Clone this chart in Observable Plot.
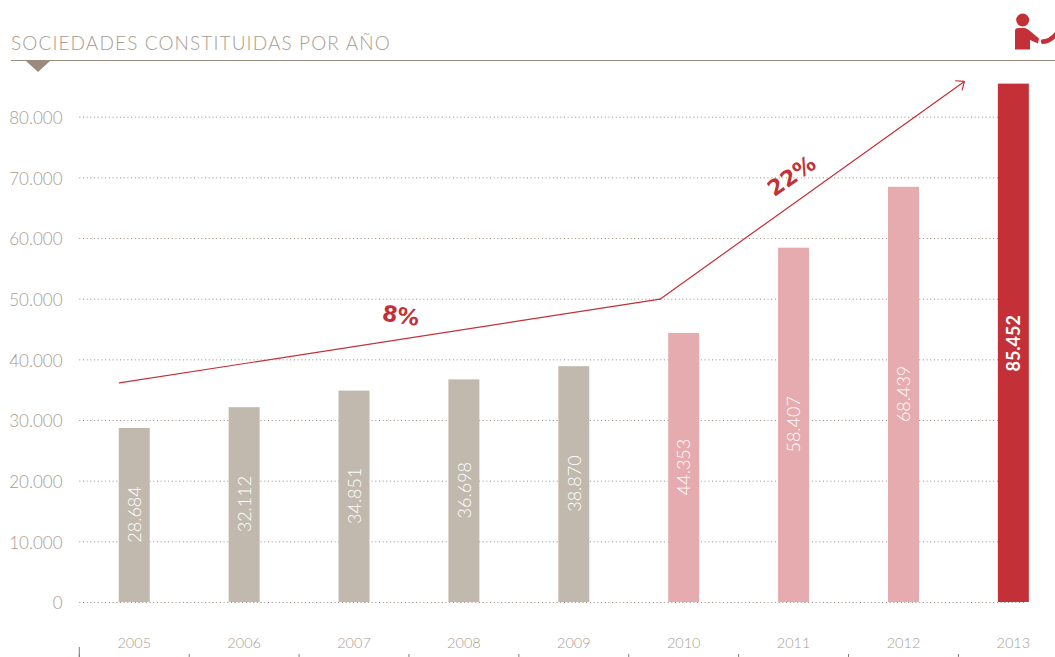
<!DOCTYPE html>
<html><head><meta charset="utf-8">
<script src="https://cdn.jsdelivr.net/npm/d3@7"></script>
<script src="https://cdn.jsdelivr.net/npm/@observablehq/plot@0.6"></script>
<style>
html,body{margin:0;padding:0;background:#fff;overflow:hidden}
#head{position:relative;height:61px;width:1055px;overflow:visible}
#title{position:absolute;left:11px;top:31px;font:300 19px Lato,sans-serif;letter-spacing:1.12px;color:#a89c90;white-space:nowrap}
#head svg{position:absolute;left:0;top:0;overflow:visible;z-index:2}
#chart svg{display:block}
</style></head>
<body>
<div id="head">
<div id="title">SOCIEDADES CONSTITUIDAS POR AÑO</div>
<svg width="1055" height="75">
<line x1="11" x2="1055" y1="60.5" y2="60.5" stroke="#9c8b7c" stroke-width="1"/>
<path d="M26 61H50L38 72Z" fill="#9c8b7c"/>
<g fill="#c33037"><circle cx="1022.7" cy="20" r="6.5"/>
<path d="M1015 31Q1015 28 1019 28L1025 28Q1028 29 1030 31L1039 38.5L1038 43.5L1030 40L1030 49.5L1015 49.5Z"/>
<path d="M1041.5 39.5Q1049 39.5 1055 32L1055 38.5Q1049 44 1042 44Q1040 42 1041.5 39.5Z"/></g>
</svg>
</div>
<div id="chart"></div>
<script>
const years = [2005,2006,2007,2008,2009,2010,2011,2012,2013];
const values = [28684,32112,34851,36698,38870,44353,58407,68439,85452];
const barColors = ["#c1b8ae","#c1b8ae","#c1b8ae","#c1b8ae","#c1b8ae","#e6abae","#e6abae","#e6abae","#c33037"];
const yTicks = [0,10000,20000,30000,40000,50000,60000,70000,80000];
const xEdges = years.map(y => y - 0.5);
const trendX = [2004.86,2009.78,2012.55];
const trendY = [36200,50000,85900];
const notes = ["8%","22%"];
const noteX = [2007.42,2010.98];
const noteY = [47200,70260];
const noteAngle = [9,-35];
const barHalf = 0.141;

const dot = n => d3.format(",")(n).replace(/,/g,".");
const rows = years.map((year,i)=>({year,value:values[i],color:barColors[i]}));
const F = "Lato, sans-serif";
const chart = Plot.plot({
  width:1055, height:596, marginLeft:79, marginRight:0, marginTop:0, marginBottom:3,
  style:{background:"transparent",fontFamily:F,overflow:"visible"},
  x:{type:"linear",domain:[2004.5,2013.5],range:[79.3,1068.3]},
  y:{domain:[0,80000],range:[541,55.7]},
  marks:[
    Plot.ruleY(yTicks,{x1:2004.5,x2:2013.1,stroke:"#9c8b7c",strokeWidth:1,strokeDasharray:"1 2.7"}),
    Plot.rect(rows,{x1:d=>d.year-barHalf,x2:d=>d.year+barHalf,y1:0,y2:"value",fill:"color"}),
    Plot.axisY(yTicks,{anchor:"left",tickSize:0,tickPadding:17,dy:1.5,tickFormat:dot,fontSize:17,fontWeight:300,label:null,fill:"#a89c90"}),
    Plot.axisX(years,{anchor:"bottom",tickSize:0,tickPadding:0,dy:-17,dx:-0.5,tickFormat:d=>String(d),fontSize:14.5,fontWeight:300,fill:"#a89c90",label:null}),
    Plot.axisX(xEdges,{anchor:"bottom",tickSize:3,dx:-0.5,tickFormat:()=>"",stroke:"#8c7b6c",label:null}),
    Plot.axisX(xEdges.slice(0,1),{anchor:"bottom",tickSize:10,dy:-7,dx:-0.5,tickFormat:()=>"",stroke:"#8c7b6c",label:null}),
    Plot.line(trendX.slice(0,2).map((x,i)=>({x,y:trendY[i]})),{x:"x",y:"y",stroke:"#c33037",strokeWidth:1.2}),
    Plot.arrow([{x1:trendX[1],y1:trendY[1],x2:trendX[2],y2:trendY[2]}],{x1:"x1",y1:"y1",x2:"x2",y2:"y2",stroke:"#c33037",strokeWidth:1.2,headLength:11,headAngle:80}),
    Plot.text(rows.slice(0,8),{x:"year",y:d=>d.value/2,text:d=>dot(d.value),rotate:-90,fill:"#fff",fontSize:18,fontWeight:300,dx:0.5,dy:-1,fontFamily:F}),
    Plot.text(rows.slice(8),{x:"year",y:d=>d.value/2,text:d=>dot(d.value),rotate:-90,fill:"#fff",fontSize:18,fontWeight:700,dx:0.5,fontFamily:F}),
    Plot.text(notes,{x:(d,i)=>noteX[i],y:(d,i)=>noteY[i],text:d=>d,rotate:(d,i)=>noteAngle[i],fill:"#c33037",fontSize:22,fontWeight:700,fontFamily:"DejaVu Sans, sans-serif"})
  ]
});
document.getElementById("chart").appendChild(chart);
</script>
</body></html>
